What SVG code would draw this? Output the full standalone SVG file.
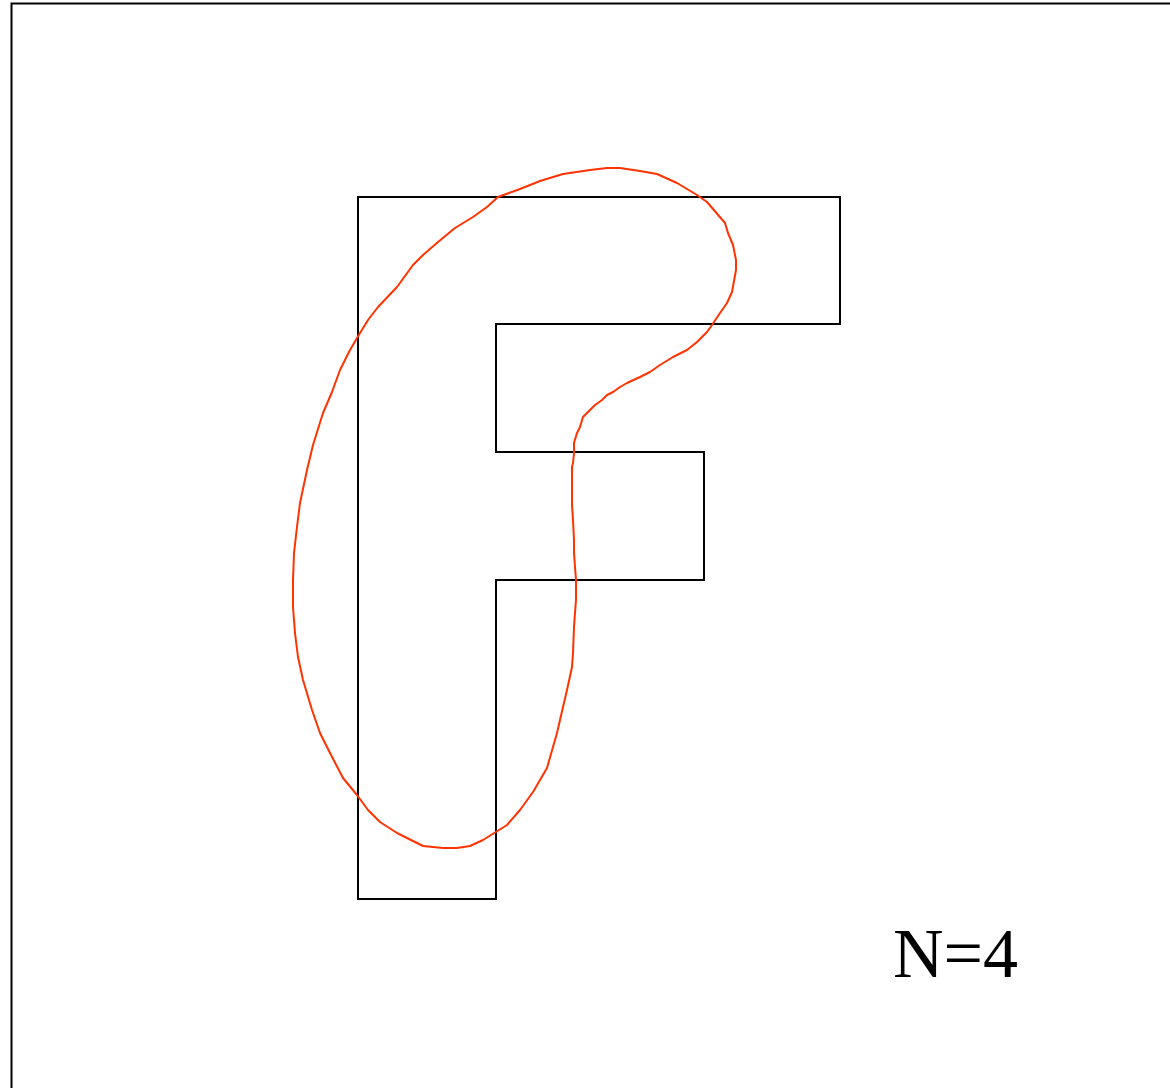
<svg xmlns="http://www.w3.org/2000/svg" width="1170" height="1088" viewBox="0 0 1170 1088">
<style>
.frame{fill:none;stroke:#000;stroke-width:2}
.shape{fill:none;stroke:#000;stroke-width:2;stroke-linejoin:miter}
.curve{fill:none;stroke:#ff3300;stroke-width:2;stroke-linejoin:round}
.lbl{font-family:"Liberation Serif","Times New Roman",serif;font-size:70px;fill:#000}
</style>
<rect width="1170" height="1088" fill="#fff"/>
<g id="frame"><path class="frame" d="M11.5,1090 V3.5 H1172"/></g>
<g id="shape-F"><polygon class="shape" points="358,197 840,197 840,324 496,324 496,452 704,452 704,580 496,580 496,899 358,899"/></g>
<g id="curve"><polygon class="curve" points="498,197 520,189 540,181 563,174 590,170 607,168 620,168 640,171 657,174 677,183 697,195 707,202 725,223 728,233 733,245 736,260 736,270 732,292 727,303 720,313 712,325 707,332 697,342 687,350 673,357 660,365 650,372 640,377 627,383 620,387 613,392 607,395 602,400 595,405 592,408 583,417 580,427 577,433 574,443 574,453 573,463 572,467 572,483 572,505 573,520 574,540 574,553 575,567 576,580 576,600 575,613 574,627 573,653 572,667 567,690 563,707 557,733 547,768 533,792 520,810 507,825 483,840 470,846 457,848 443,848 423,846 397,833 380,822 368,810 357,795 343,778 330,753 320,733 312,710 303,680 298,657 295,633 293,607 293,580 294,553 297,527 300,503 307,470 313,445 323,413 332,392 340,370 350,350 360,333 368,320 378,307 397,287 413,265 423,255 438,242 455,228 473,217 487,207"/></g>
<g id="label"><text class="lbl" x="893" y="977">N=4</text></g>
</svg>
